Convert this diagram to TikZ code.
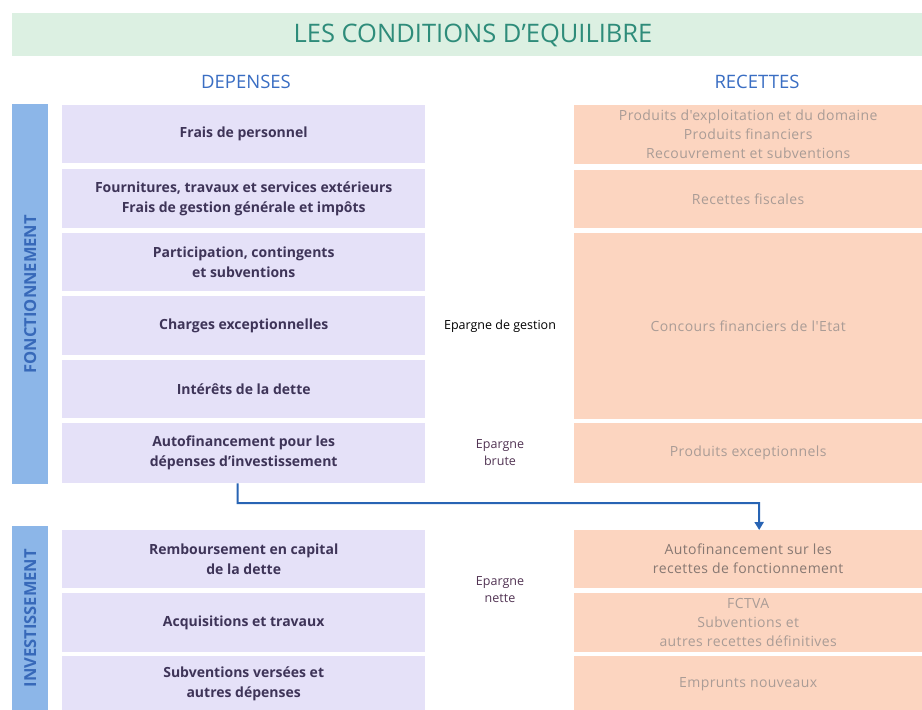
\documentclass[tikz,border=0pt]{standalone}
\usepackage{fontspec}
\setmainfont{Open Sans}
\newfontfamily\recfont[LetterSpace=3]{Open Sans}
\usetikzlibrary{arrows.meta,positioning}

\definecolor{titlebg}{RGB}{220,240,226}
\definecolor{titletext}{RGB}{46,140,122}
\definecolor{headtext}{RGB}{58,110,195}
\definecolor{barfill}{RGB}{140,182,232}
\definecolor{bartext}{RGB}{55,105,185}
\definecolor{depfill}{RGB}{229,225,248}
\definecolor{deptext}{RGB}{62,52,88}
\definecolor{recfill}{RGB}{252,213,192}
\definecolor{rectext}{RGB}{170,156,150}
\definecolor{recdark}{RGB}{135,120,114}
\definecolor{flowblue}{RGB}{40,100,180}
\definecolor{epargnetext}{RGB}{82,52,84}

\tikzset{
  depbox/.style={fill=depfill, anchor=north west, minimum width=363pt, align=center,
    inner sep=0pt, text=deptext, font=\fontsize{14}{20}\selectfont\bfseries},
  recbox/.style={fill=recfill, anchor=north west, minimum width=348pt, align=center,
    inner sep=0pt, text=rectext, font=\recfont\fontsize{14}{19}\selectfont},
  sidebar/.style={fill=barfill, anchor=north west, minimum width=36pt, inner sep=0pt},
  sidelabel/.style={rotate=90, text=bartext, font=\fontsize{16.5}{16.5}\selectfont\bfseries},
  epargne/.style={align=center, font=\fontsize{12.5}{17}\selectfont},
  flow/.style={draw=flowblue, line width=2pt, -{Triangle[length=8pt,width=9pt]}}
}

\begin{document}
\begin{tikzpicture}[x=1pt, y=-1pt]
  \useasboundingbox[fill=white] (0,0) rectangle (922,710);

  % Title band and column headers
  \node[fill=titlebg, anchor=north west, minimum width=910pt, minimum height=43pt] (band) at (12,13) {};
  \node[text=titletext, font=\fontsize{25.5}{25.5}\selectfont] (title) at (473,35) {LES CONDITIONS D'EQUILIBRE};
  \node[text=headtext, font=\fontsize{18.5}{18.5}\selectfont] (depenses) at (246,82) {DEPENSES};
  \node[text=headtext, font=\fontsize{18.5}{18.5}\selectfont] (recettes) at (757,82) {RECETTES};

  % Side bars
  \node[sidebar, minimum height=380pt] (fbar) at (12,104) {};
  \node[sidelabel] at (fbar.center) {FONCTIONNEMENT};
  \node[sidebar, minimum height=184pt] (ibar) at (12,526) {};
  \node[sidelabel] at (ibar.center) {INVESTISSEMENT};

  % Fonctionnement: depenses
  \node[depbox, minimum height=58pt] (perso) at (62,105) {Frais de personnel};
  \node[depbox, minimum height=59pt] (fourn) at (62,169) {Fournitures, travaux et services extérieurs\\Frais de gestion générale et impôts};
  \node[depbox, minimum height=58pt] (partic) at (62,233) {Participation, contingents\\et subventions};
  \node[depbox, minimum height=59pt] (charges) at (62,296) {Charges exceptionnelles};
  \node[depbox, minimum height=58pt] (interets) at (62,360) {Intérêts de la dette};
  \node[depbox, minimum height=60pt] (autofin) at (62,423) {Autofinancement pour les\\dépenses d'investissement};

  % Fonctionnement: recettes
  \node[recbox, minimum height=59pt] (produits) at (574,105) {Produits d'exploitation et du domaine\\Produits financiers\\Recouvrement et subventions};
  \node[recbox, minimum height=58pt] (fiscales) at (574,170) {Recettes fiscales};
  \node[recbox, minimum height=186pt] (concours) at (574,233) {Concours financiers de l'Etat};
  \node[recbox, minimum height=60pt] (prodexc) at (574,423) {Produits exceptionnels};

  % Investissement: depenses
  \node[depbox, minimum height=58pt] (rembours) at (62,530) {Remboursement en capital\\de la dette};
  \node[depbox, minimum height=59pt] (acquis) at (62,593) {Acquisitions et travaux};
  \node[depbox, minimum height=56pt] (subv) at (62,656) {Subventions versées et\\autres dépenses};

  % Investissement: recettes
  \node[recbox, minimum height=58pt, text=recdark] (autofinrec) at (574,530) {Autofinancement sur les\\recettes de fonctionnement};
  \node[recbox, minimum height=59pt] (fctva) at (574,593) {FCTVA\\Subventions et\\autres recettes définitives};
  \node[recbox, minimum height=56pt] (emprunts) at (574,656) {Emprunts nouveaux};

  % Epargne labels
  \node[epargne, text=black] (gestion) at (500,326) {Epargne de gestion};
  \node[epargne, text=epargnetext] (brute) at (500,453) {Epargne\\brute};
  \node[epargne, text=epargnetext] (nette) at (500,590) {Epargne\\nette};

  % Autofinancement transfer
  \coordinate (bend) at (759,503);
  \draw[flow] ([xshift=-6pt]autofin.south) |- (bend) -- ([xshift=11pt]autofinrec.north);
\end{tikzpicture}
\end{document}
